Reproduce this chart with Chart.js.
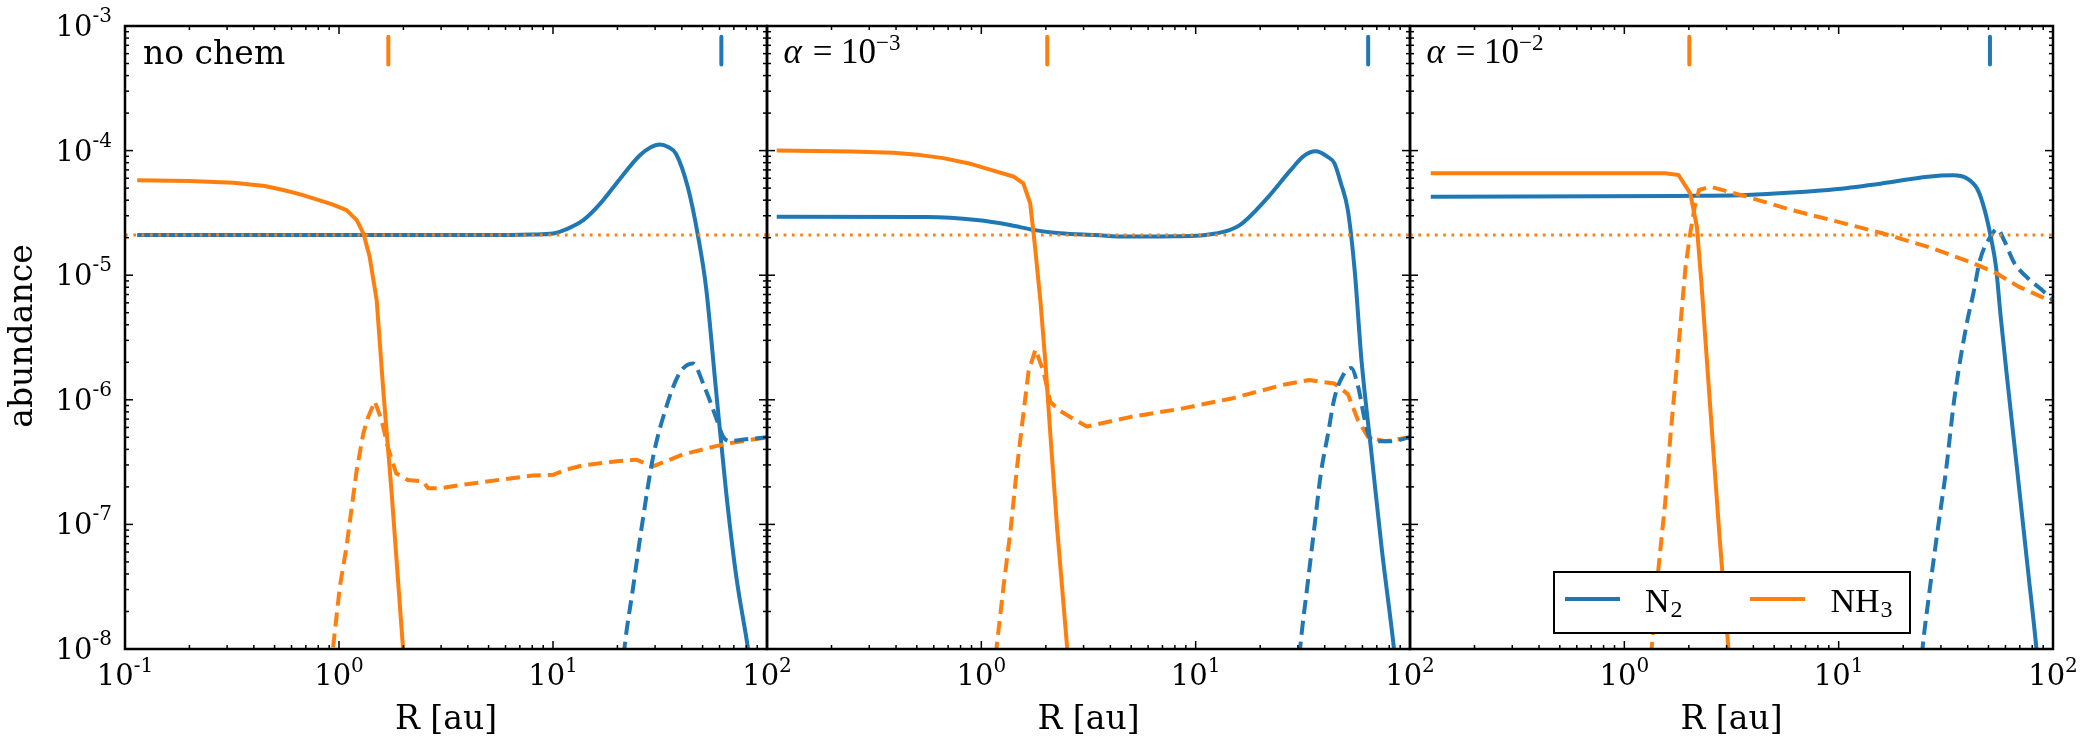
<!DOCTYPE html>
<html>
<head>
<meta charset="utf-8">
<script src="https://cdn.jsdelivr.net/npm/chart.js@4.4.1/dist/chart.umd.min.js"></script>
<style>
html, body { margin: 0; padding: 0; background: #fff; }
#wrap { position: relative; width: 2091px; height: 747px; }
#wrap canvas { position: absolute; left: 0; top: 0; }
</style>
</head>
<body>
<div id="wrap">
  <canvas id="p1" width="2091" height="747"></canvas>
  <canvas id="p2" width="2091" height="747"></canvas>
  <canvas id="p3" width="2091" height="747"></canvas>
</div>
<script>
// Abundance vs radius, three models side by side

const BLUE = '#1f77b4';
const ORANGE = '#ff7f0e';

// axis ranges and tick labels (exponents of ten)
const rRange = [0.1, 100];
const aRange = [1e-8, 1e-3];
const yTickExps = [-3, -4, -5, -6, -7, -8];
const xTickExpsFirst = [-1, 0, 1, 2];
const xTickExpsOther = [0, 1, 2];

// initial abundance (dotted line) and snowline markers
const initialAbundance = 2.1e-5;
const snowTop = 8.2e-4;
const snowBottom = 4.9e-4;
const snowNH3 = [1.70, 2.03, 2.01];
const snowN2 = [61.2, 63.8, 50.8];

// ---- panel 1: no chem ----
const p1N2gasR = [0.114, 0.5, 2, 5, 8, 10, 11.5, 13.8, 16.5, 20.5, 25.4, 28.5, 31.5, 34.5, 37.6, 42.7, 47.5, 52, 57.8, 64.4, 71.8, 81.3, 85];
const p1N2gas  = [2.1e-5, 2.1e-5, 2.1e-5, 2.1e-5, 2.12e-5, 2.16e-5, 2.33e-5, 2.75e-5, 3.7e-5, 5.9e-5, 9.14e-5, 1.06e-4, 1.12e-4, 1.07e-4, 9.4e-5, 5.05e-5, 2.11e-5, 7.8e-6, 1.19e-6, 1.83e-7, 3.85e-8, 1.04e-8, 6e-9];
const p1NH3gasR = [0.114, 0.2, 0.321, 0.45, 0.549, 0.66, 0.785, 0.93, 1.084, 1.21, 1.30, 1.39, 1.50, 1.61, 1.76, 1.99, 2.03];
const p1NH3gas  = [5.78e-5, 5.7e-5, 5.52e-5, 5.2e-5, 4.83e-5, 4.45e-5, 4.06e-5, 3.7e-5, 3.33e-5, 2.77e-5, 2.17e-5, 1.41e-5, 6.3e-6, 1.19e-6, 1.83e-7, 1.03e-8, 6e-9];
const p1N2iceR = [21, 21.6, 23.6, 26.3, 29.3, 33.8, 39, 45, 51, 57.8, 62.1, 66.7, 79.8, 100];
const p1N2ice  = [6e-9, 1.03e-8, 3e-8, 1.1e-7, 3.42e-7, 8.7e-7, 1.63e-6, 1.96e-6, 1.27e-6, 7.2e-7, 5.13e-7, 4.67e-7, 4.82e-7, 5.0e-7];
const p1NH3iceR = [0.92, 0.939, 1.009, 1.084, 1.143, 1.21, 1.30, 1.37, 1.47, 1.58, 1.69, 1.85, 2.10, 2.47, 2.61, 2.96, 3.94, 5.64, 8.05, 10, 11.5, 13.8, 19.8, 24.5, 29.3, 40.4, 57.8, 69.2, 100];
const p1NH3ice  = [7e-9, 1.04e-8, 3.16e-8, 6.6e-8, 1.31e-7, 2.73e-7, 5.4e-7, 7.3e-7, 9.7e-7, 6.9e-7, 4.2e-7, 2.57e-7, 2.27e-7, 2.21e-7, 1.95e-7, 1.95e-7, 2.1e-7, 2.28e-7, 2.47e-7, 2.5e-7, 2.75e-7, 2.98e-7, 3.21e-7, 3.31e-7, 2.92e-7, 3.64e-7, 4.25e-7, 4.53e-7, 5.0e-7];

// ---- panel 2: alpha = 1e-3 ----
const p2N2gasR = [0.111, 0.556, 0.952, 1.36, 1.75, 2.33, 3.4, 4.77, 8, 12.4, 16.0, 21.4, 27.6, 31.8, 36.3, 41.3, 44.4, 47.7, 51.3, 55.2, 59.4, 66.2, 73.8, 83.9, 86];
const p2N2gas  = [2.95e-5, 2.93e-5, 2.77e-5, 2.53e-5, 2.31e-5, 2.17e-5, 2.1e-5, 2.04e-5, 2.05e-5, 2.16e-5, 2.51e-5, 4.09e-5, 6.9e-5, 9.0e-5, 9.87e-5, 8.9e-5, 7.9e-5, 5.4e-5, 3.32e-5, 1.09e-5, 2.07e-6, 3.64e-7, 6.4e-8, 1.06e-8, 7e-9];
const p2NH3gasR = [0.111, 0.25, 0.388, 0.52, 0.665, 0.9, 1.137, 1.41, 1.57, 1.69, 1.78, 1.89, 1.99, 2.10, 2.26, 2.51, 2.56];
const p2NH3gas  = [1.0e-4, 9.85e-5, 9.6e-5, 9.2e-5, 8.7e-5, 7.8e-5, 6.9e-5, 6.2e-5, 5.46e-5, 3.78e-5, 1.7e-5, 6e-6, 2.0e-6, 5.2e-7, 9.1e-8, 1.06e-8, 6e-9];
const p2N2iceR = [30, 30.8, 33.2, 35.7, 38.4, 41.3, 44.4, 48.6, 53.2, 57.3, 61.6, 64.8, 71.8, 81, 100];
const p2N2ice  = [6e-9, 1.06e-8, 3.2e-8, 9.1e-8, 2.58e-7, 5.15e-7, 1.03e-6, 1.56e-6, 1.8e-6, 1.27e-6, 6.8e-7, 5.0e-7, 4.65e-7, 4.65e-7, 5.0e-7];
const p2NH3iceR = [1.15, 1.18, 1.27, 1.37, 1.47, 1.58, 1.66, 1.79, 1.95, 2.10, 2.34, 2.70, 3.11, 4.99, 8.61, 14.9, 25.7, 33.8, 44.4, 51.3, 57.3, 63.8, 76.6, 100];
const p2NH3ice  = [6e-9, 1.06e-8, 3.2e-8, 9.1e-8, 2.96e-7, 8.4e-7, 1.68e-6, 2.54e-6, 1.68e-6, 9.6e-7, 8.1e-7, 7.0e-7, 6.1e-7, 7.3e-7, 8.5e-7, 1.03e-6, 1.32e-6, 1.44e-6, 1.35e-6, 1.11e-6, 6.8e-7, 5.0e-7, 4.65e-7, 5.0e-7];

// ---- panel 3: alpha = 1e-2 ----
const p3N2gasR = [0.125, 1.79, 3.72, 6.06, 9.86, 16.0, 26.1, 34.1, 39.5, 44.6, 48, 51.6, 54.2, 56.9, 61.2, 68.3, 76.2, 83.6, 86];
const p3N2gas  = [4.27e-5, 4.33e-5, 4.4e-5, 4.6e-5, 4.92e-5, 5.46e-5, 6.18e-5, 6.34e-5, 6.0e-5, 4.83e-5, 3.33e-5, 1.92e-5, 1.17e-5, 4.8e-6, 1.45e-6, 2.58e-7, 4.5e-8, 1.03e-8, 6e-9];
const p3NH3gasR = [0.125, 1.55, 1.79, 2.03, 2.18, 2.29, 2.46, 2.78, 3.06, 3.1];
const p3NH3gas  = [6.58e-5, 6.58e-5, 6.37e-5, 4.54e-5, 2.45e-5, 8.6e-6, 1.5e-6, 8.0e-8, 1.0e-8, 6e-9];
const p3N2iceR = [24, 24.6, 26.1, 28.7, 31.7, 34.6, 39.6, 42.4, 45.8, 51.1, 54.9, 59.2, 65.9, 76.2, 88.1, 100];
const p3N2ice  = [6e-9, 1.0e-8, 2.33e-8, 8.0e-8, 2.73e-7, 1.0e-6, 4.1e-6, 7e-6, 1.35e-5, 2.04e-5, 2.35e-5, 1.9e-5, 1.26e-5, 9.5e-6, 7.7e-6, 6.3e-6];
const p3NH3iceR = [1.3, 1.34, 1.44, 1.55, 1.64, 1.75, 1.84, 1.93, 2.03, 2.13, 2.23, 2.52, 3.72, 6.06, 9.86, 16.0, 26.1, 42.4, 54.2, 69.1, 100];
const p3NH3ice  = [6e-9, 1.0e-8, 4.3e-8, 1.48e-7, 5.06e-7, 1.73e-6, 4.6e-6, 1.17e-5, 2.17e-5, 3.55e-5, 4.83e-5, 5.13e-5, 4.27e-5, 3.33e-5, 2.69e-5, 2.17e-5, 1.69e-5, 1.25e-5, 1.04e-5, 8.1e-6, 6.1e-6];

const panels = [
  { id: 'p1', left: 125, right: 767, xExps: xTickExpsFirst, yLabels: true, title: 'no chem',
    n2gas: [p1N2gasR, p1N2gas], nh3gas: [p1NH3gasR, p1NH3gas], n2ice: [p1N2iceR, p1N2ice], nh3ice: [p1NH3iceR, p1NH3ice] },
  { id: 'p2', left: 767, right: 1410, xExps: xTickExpsOther, yLabels: false, alphaExp: '3',
    n2gas: [p2N2gasR, p2N2gas], nh3gas: [p2NH3gasR, p2NH3gas], n2ice: [p2N2iceR, p2N2ice], nh3ice: [p2NH3iceR, p2NH3ice] },
  { id: 'p3', left: 1410, right: 2053, xExps: xTickExpsOther, yLabels: false, alphaExp: '2', legend: true,
    n2gas: [p3N2gasR, p3N2gas], nh3gas: [p3NH3gasR, p3NH3gas], n2ice: [p3N2iceR, p3N2ice], nh3ice: [p3NH3iceR, p3NH3ice] }
];

const W = 2091, H = 747, TOP = 26, BOTTOM = 649;

function pts(pair) {
  return pair[0].map((r, i) => ({ x: r, y: pair[1][i] }));
}

function line(ctx, x1, y1, x2, y2) {
  ctx.beginPath();
  ctx.moveTo(x1, y1);
  ctx.lineTo(x2, y2);
  ctx.stroke();
}

// "10" with a raised exponent
function powLabel(ctx, exp, px, baseline, align, raise) {
  ctx.font = '29px "DejaVu Serif"';
  const wb = ctx.measureText('10').width;
  ctx.font = '20px "DejaVu Serif"';
  const we = ctx.measureText(exp).width;
  const x0 = align === 'center' ? px - (wb + we) / 2 : px - (wb + we);
  ctx.textAlign = 'left';
  ctx.textBaseline = 'alphabetic';
  ctx.font = '29px "DejaVu Serif"';
  ctx.fillText('10', x0, baseline);
  ctx.font = '20px "DejaVu Serif"';
  ctx.fillText(exp, x0 + wb, baseline - raise);
}

function makeDecor(panel) {
  return {
    id: 'decor_' + panel.id,
    afterDraw(chart) {
      const ctx = chart.ctx;
      const a = chart.chartArea;
      const xs = chart.scales.x, ys = chart.scales.y;
      ctx.save();
      ctx.fillStyle = '#000';
      ctx.strokeStyle = '#000';

      // ticks, pointing inwards on all four sides
      ctx.lineWidth = 1.5;
      for (let d = -1; d <= 2; d++) {
        for (let m = 1; m <= 9; m++) {
          const v = m * Math.pow(10, d);
          if (v > rRange[1] * 1.0001) continue;
          const px = xs.getPixelForValue(v);
          const len = m === 1 ? 8 : 4;
          line(ctx, px, a.bottom, px, a.bottom - len);
          line(ctx, px, a.top, px, a.top + len);
        }
      }
      for (let d = -8; d <= -3; d++) {
        for (let m = 1; m <= 9; m++) {
          const v = m * Math.pow(10, d);
          if (v > aRange[1] * 1.0001) continue;
          const py = ys.getPixelForValue(v);
          const len = m === 1 ? 8 : 4;
          line(ctx, a.left, py, a.left + len, py);
          line(ctx, a.right, py, a.right - len, py);
        }
      }

      // frame
      ctx.lineWidth = 2.5;
      ctx.strokeRect(a.left, a.top, a.right - a.left, a.bottom - a.top);

      // x tick labels
      panel.xExps.forEach(e => {
        powLabel(ctx, String(e), xs.getPixelForValue(Math.pow(10, e)), 685, 'center', 13.5);
      });
      // y tick labels
      if (panel.yLabels) {
        yTickExps.forEach(e => {
          powLabel(ctx, String(e), 112, ys.getPixelForValue(Math.pow(10, e)) + 10, 'right', 14);
        });
        ctx.save();
        ctx.font = '33px "DejaVu Serif"';
        ctx.textAlign = 'center';
        ctx.translate(32, 336);
        ctx.rotate(-Math.PI / 2);
        ctx.fillText('abundance', 0, 0);
        ctx.restore();
      }

      // x axis title
      ctx.font = '33px "DejaVu Serif"';
      ctx.textAlign = 'center';
      ctx.fillText('R [au]', (a.left + a.right) / 2, 729);

      // panel title
      ctx.textAlign = 'left';
      if (panel.title) {
        ctx.font = '33px "DejaVu Serif"';
        ctx.fillText(panel.title, a.left + 18, 64);
      } else {
        const base = 63.3, x0 = a.left;
        ctx.font = 'italic 35px "Liberation Serif"';
        ctx.fillText('\u03b1', x0 + 16.5, base);
        ctx.font = '35px "Liberation Serif"';
        ctx.textAlign = 'center';
        ctx.fillText('=', x0 + 55.5, base);
        ctx.textAlign = 'left';
        ctx.fillText('10', x0 + 74, base);
        ctx.font = '23px "Liberation Serif"';
        ctx.fillText('\u2212' + panel.alphaExp, x0 + 109, base - 13);
      }

      // legend
      if (panel.legend) {
        const bx = 1554, by = 572, bw = 356, bh = 61;
        ctx.fillStyle = '#fff';
        ctx.fillRect(bx, by, bw, bh);
        ctx.lineWidth = 2;
        ctx.strokeStyle = '#000';
        ctx.strokeRect(bx, by, bw, bh);
        ctx.lineWidth = 4;
        ctx.strokeStyle = BLUE;
        line(ctx, 1565, 599, 1620, 599);
        ctx.strokeStyle = ORANGE;
        line(ctx, 1750, 599, 1805, 599);
        ctx.fillStyle = '#000';
        ctx.textAlign = 'left';
        ctx.font = '34px "Liberation Serif"';
        ctx.fillText('N', 1645, 611.7);
        let w = ctx.measureText('N').width;
        ctx.font = '24px "Liberation Serif"';
        ctx.fillText('2', 1645 + w + 1, 617);
        ctx.font = '34px "Liberation Serif"';
        ctx.fillText('NH', 1830.5, 611.7);
        w = ctx.measureText('NH').width;
        ctx.font = '24px "Liberation Serif"';
        ctx.fillText('3', 1830.5 + w + 1, 617);
      }
      ctx.restore();
    }
  };
}

panels.forEach((panel, k) => {
  const datasets = [
    { data: [{ x: rRange[0], y: initialAbundance }, { x: rRange[1], y: initialAbundance }],
      borderColor: ORANGE, borderWidth: 3, borderDash: [2.7, 5.6] },
    { data: [{ x: snowNH3[k], y: snowTop }, { x: snowNH3[k], y: snowBottom }],
      borderColor: ORANGE, borderWidth: 4 },
    { data: [{ x: snowN2[k], y: snowTop }, { x: snowN2[k], y: snowBottom }],
      borderColor: BLUE, borderWidth: 4 },
    { data: pts(panel.n2ice), borderColor: BLUE, borderWidth: 4, borderDash: [14, 7], cubicInterpolationMode: 'monotone' },
    { data: pts(panel.nh3ice), borderColor: ORANGE, borderWidth: 4, borderDash: [14, 7] },
    { data: pts(panel.nh3gas), borderColor: ORANGE, borderWidth: 4 },
    { data: pts(panel.n2gas), borderColor: BLUE, borderWidth: 4, cubicInterpolationMode: 'monotone' }
  ].map(ds => Object.assign({ showLine: true, pointRadius: 0, pointHoverRadius: 0, fill: false,
    borderCapStyle: 'butt', borderJoinStyle: 'round', clip: 0 }, ds));

  new Chart(document.getElementById(panel.id), {
    type: 'scatter',
    data: { datasets: datasets },
    options: {
      responsive: false,
      animation: false,
      devicePixelRatio: 1,
      events: [],
      layout: { padding: { left: panel.left, right: W - panel.right, top: TOP, bottom: H - BOTTOM } },
      scales: {
        x: { type: 'logarithmic', min: rRange[0], max: rRange[1], display: false },
        y: { type: 'logarithmic', min: aRange[0], max: aRange[1], display: false }
      },
      plugins: { legend: { display: false }, tooltip: { enabled: false } }
    },
    plugins: [makeDecor(panel)]
  });
});
</script>
</body>
</html>
